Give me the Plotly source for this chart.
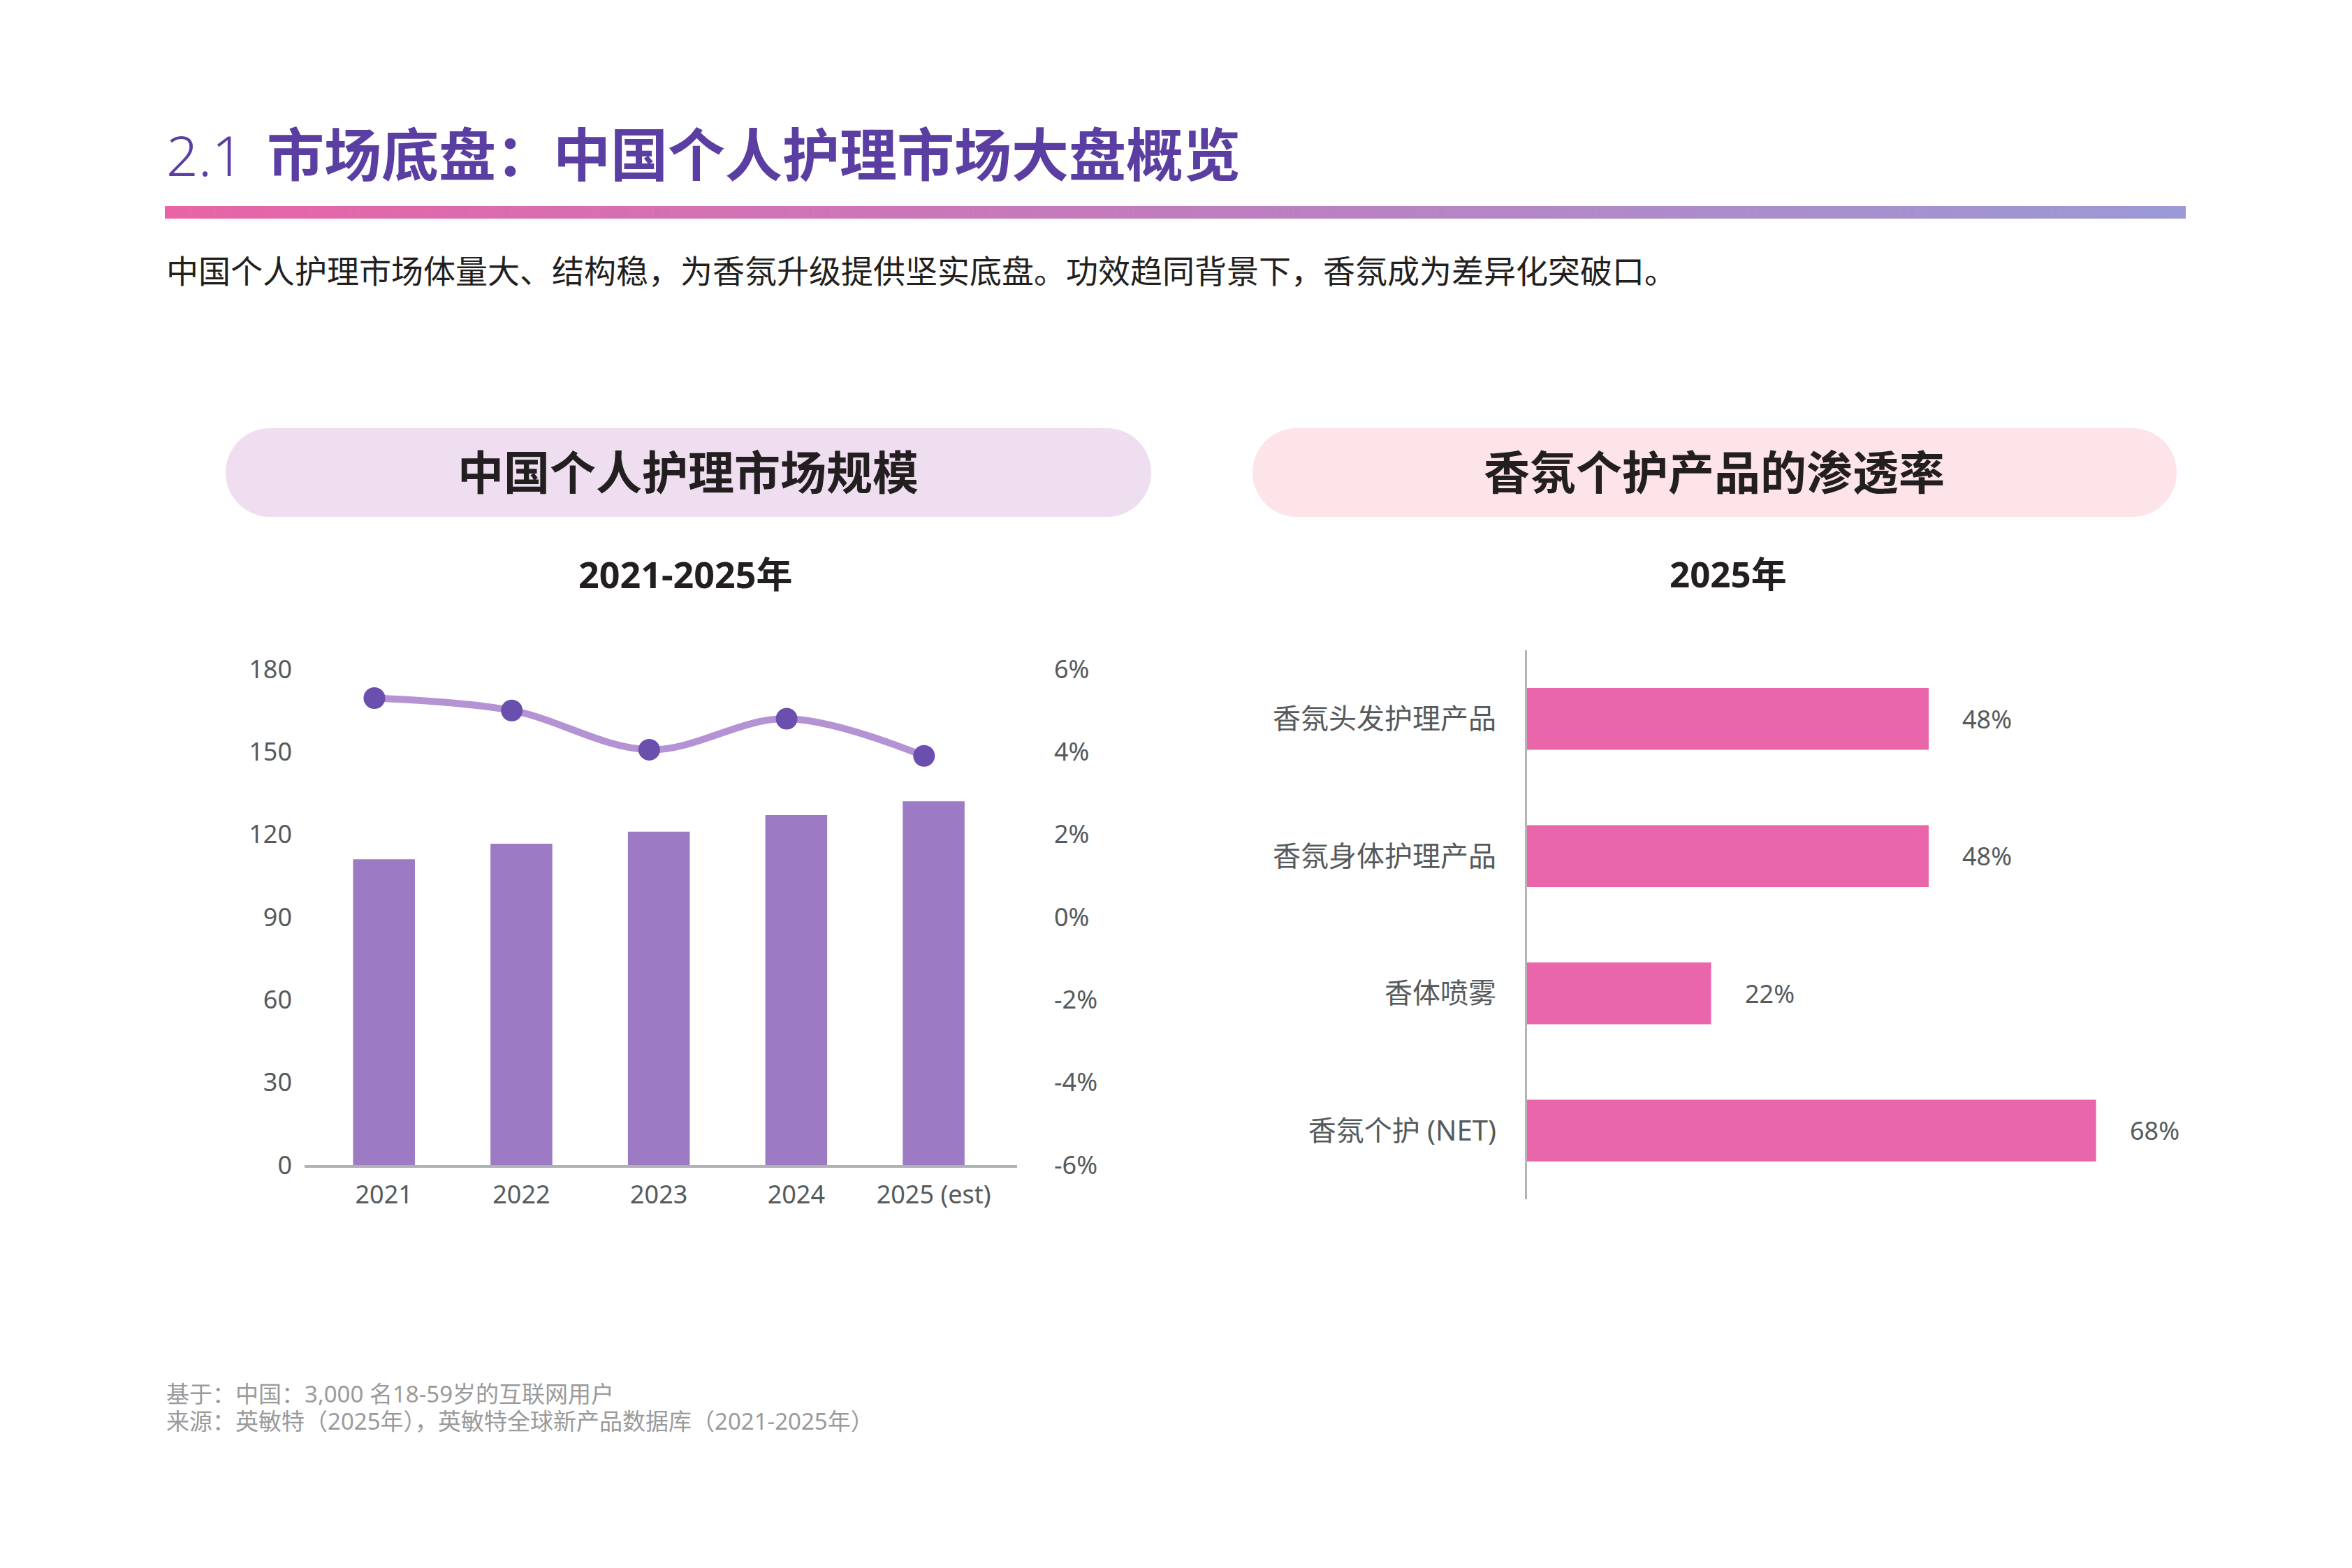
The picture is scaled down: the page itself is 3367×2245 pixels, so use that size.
import plotly.graph_objects as go

W, H = 3367, 2245

# ---------------- data ----------------
years = ["2021", "2022", "2023", "2024", "2025 (est)"]
market_size = [111, 116.6, 121, 127, 132]
growth_rate = [5.3, 5.0, 4.05, 4.8, 3.9]
left_tickvals = [0, 30, 60, 90, 120, 150, 180]
right_tickvals = [-6, -4, -2, 0, 2, 4, 6]
right_ticktext = ["-6%", "-4%", "-2%", "0%", "2%", "4%", "6%"]

categories = ["香氛头发护理产品", "香氛身体护理产品", "香体喷雾", "香氛个护 (NET)"]
penetration = [48, 48, 22, 68]

title_num = "2.1"
title_text = "市场底盘：中国个人护理市场大盘概览"
subtitle = "中国个人护理市场体量大、结构稳，为香氛升级提供坚实底盘。功效趋同背景下，香氛成为差异化突破口。"
left_head = "中国个人护理市场规模"
right_head = "香氛个护产品的渗透率"
left_sub = "2021-2025年"
right_sub = "2025年"
notes = ["基于：中国：3,000 名18-59岁的互联网用户",
         "来源：英敏特（2025年），英敏特全球新产品数据库（2021-2025年）"]

# ---------------- helpers ----------------
FONT = "Noto Sans, Noto Sans CJK SC, sans-serif"
TICK_COLOR = "#555A5C"


def px(x):
    return x / W


def py(y):
    return 1 - y / H


def hex2rgb(h):
    h = h.lstrip("#")
    return tuple(int(h[i:i + 2], 16) for i in (0, 2, 4))


def mix(c1, c2, t):
    a, b = hex2rgb(c1), hex2rgb(c2)
    return "rgb(%d,%d,%d)" % tuple(round(a[i] + (b[i] - a[i]) * t) for i in range(3))


fig = go.Figure()

# left chart: bars + growth line
fig.add_trace(go.Bar(x=years, y=market_size, marker=dict(color="#9C7AC4", line=dict(width=0)),
                     xaxis="x", yaxis="y", showlegend=False))
fig.add_trace(go.Scatter(x=years, y=growth_rate, mode="lines+markers",
                         line=dict(color="#B492D4", width=10, shape="spline", smoothing=1.0),
                         marker=dict(color="#6A4FAE", size=31),
                         xaxis="x2", yaxis="y2", showlegend=False))

# right chart: horizontal bars
fig.add_trace(go.Bar(x=penetration, y=categories, orientation="h",
                     marker=dict(color="#E966AA", line=dict(width=0)),
                     xaxis="x3", yaxis="y3", showlegend=False))

shapes = []
# gradient rule under title
x0, x1, y0, y1 = 236, 3129, 295, 313
n = 240
stops = ["#E864A6", "#C07DBE", "#9B99D6"]
for i in range(n):
    t = (i + 0.5) / n
    if t < 0.5:
        col = mix(stops[0], stops[1], t / 0.5)
    else:
        col = mix(stops[1], stops[2], (t - 0.5) / 0.5)
    xa = x0 + (x1 - x0) * i / n
    xb = x0 + (x1 - x0) * (i + 1) / n + 0.6
    shapes.append(dict(type="rect", xref="paper", yref="paper", x0=px(xa), x1=px(min(xb, x1)),
                       y0=py(y1), y1=py(y0), fillcolor=col, line=dict(width=0), layer="below"))


def pill(xl, xr, yt, yb, color):
    r = (yb - yt) / 2
    out = [dict(type="rect", xref="paper", yref="paper", x0=px(xl + r), x1=px(xr - r),
                y0=py(yb), y1=py(yt), fillcolor=color, line=dict(width=0), layer="below"),
           dict(type="circle", xref="paper", yref="paper", x0=px(xl), x1=px(xl + 2 * r),
                y0=py(yb), y1=py(yt), fillcolor=color, line=dict(width=0), layer="below"),
           dict(type="circle", xref="paper", yref="paper", x0=px(xr - 2 * r), x1=px(xr),
                y0=py(yb), y1=py(yt), fillcolor=color, line=dict(width=0), layer="below")]
    return out


shapes += pill(323, 1648, 613, 740, "#EFDEF0")
shapes += pill(1793, 3116, 613, 740, "#FDE4E8")

annotations = []


def txt(x, y, text, size, color="#231F20", weight="normal", xanchor="left"):
    annotations.append(dict(x=px(x), y=py(y), xref="paper", yref="paper", text=text,
                            showarrow=False, xanchor=xanchor, yanchor="middle",
                            font=dict(family=FONT, size=size, color=color, weight=weight)))


txt(236, 220, title_num, 80, "#5A3EA1", weight=300)
txt(380, 220, title_text, 82, "#5A3EA1", weight="bold")
txt(236, 387, subtitle, 46, "#231F20")
txt(985, 675, left_head, 66, "#231F20", weight="bold", xanchor="center")
txt(2454, 675, right_head, 66, "#231F20", weight="bold", xanchor="center")
txt(981, 821, left_sub, 52, "#231F20", weight="bold", xanchor="center")
txt(2474, 821, right_sub, 51, "#231F20", weight="bold", xanchor="center")
txt(236, 1995, notes[0], 33, "#9A9A9A")
txt(236, 2034, notes[1], 33, "#9A9A9A")

# value labels for right chart
for c, v in zip(categories, penetration):
    annotations.append(dict(x=v, y=c, xref="x3", yref="y3", text=f"{v}%", showarrow=False,
                            xanchor="left", yanchor="middle", xshift=46,
                            font=dict(family=FONT, size=36, color=TICK_COLOR)))

tickfont = dict(family=FONT, size=36, color=TICK_COLOR)

fig.update_layout(
    template="none",
    width=W, height=H, autosize=False,
    margin=dict(l=0, r=0, t=0, b=0, pad=0, autoexpand=False),
    paper_bgcolor="white", plot_bgcolor="rgba(0,0,0,0)",
    bargap=0.55,
    showlegend=False,
    shapes=shapes,
    annotations=annotations,
    xaxis=dict(domain=[px(436), px(1456)], type="category", range=[-0.578, 4.607],
               showline=True, linecolor="#AEB2B3", linewidth=4, ticks="", showgrid=False,
               zeroline=False, tickfont=tickfont, ticklabelstandoff=8, anchor="y",
               automargin=False),
    yaxis=dict(domain=[py(1668), py(958)], range=[0, 180], tickvals=left_tickvals,
               showline=False, showgrid=False, zeroline=False, ticks="",
               tickfont=tickfont, ticklabelstandoff=17, anchor="x", automargin=False),
    xaxis2=dict(domain=[px(436), px(1456)], type="category", overlaying="x",
                range=[-0.508, 4.677], visible=False, anchor="y2", automargin=False),
    yaxis2=dict(domain=[py(1668), py(958)], overlaying="y", side="right", range=[-6, 6],
                tickvals=right_tickvals, ticktext=right_ticktext, showline=False,
                showgrid=False, zeroline=False, ticks="", tickfont=tickfont,
                ticklabelstandoff=52, anchor="x2", automargin=False),
    xaxis3=dict(domain=[px(2186), px(3130)], range=[0, 78.8], visible=False, anchor="y3",
                automargin=False),
    yaxis3=dict(domain=[py(1717), py(931)], type="category", range=[3.5, -0.5],
                showline=True, linecolor="#B4B4B4", linewidth=3, ticks="", showgrid=False,
                zeroline=False, tickfont=dict(family=FONT, size=40, color=TICK_COLOR),
                ticklabelstandoff=33, anchor="x3", automargin=False),
)

fig.write_html("out.html")
